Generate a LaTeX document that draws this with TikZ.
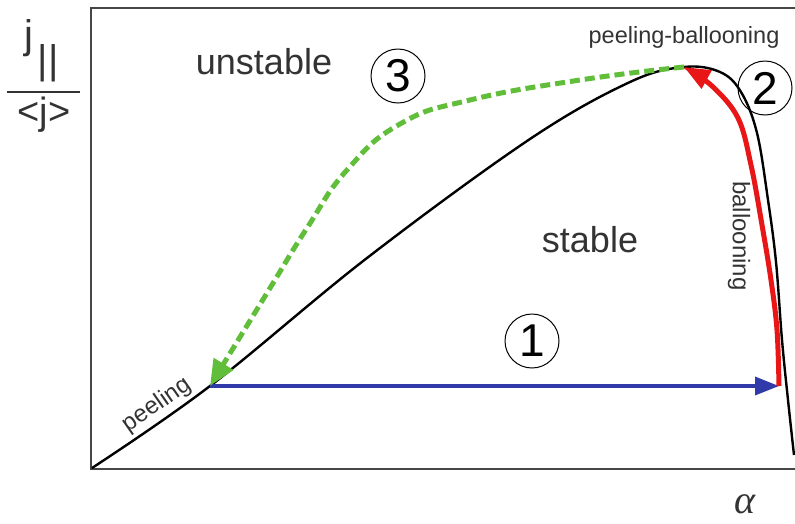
\documentclass[tikz,border=0pt]{standalone}
\usepackage{fontspec}
\setmainfont{Liberation Sans}
\newfontfamily\greekserif{Liberation Serif}
\usetikzlibrary{arrows.meta}
\definecolor{grn}{RGB}{96,190,58}
\definecolor{rd}{RGB}{232,22,22}
\definecolor{bl}{RGB}{48,58,168}
\definecolor{frm}{RGB}{70,70,70}
\tikzset{
  lbl/.style={inner sep=0pt, text=black!80},
  numc/.style={draw=black, line width=1pt, circle, minimum size=54pt, inner sep=0pt, font=\fontsize{46}{46}\selectfont},
  bound/.style={black, line width=2.4pt},
}
\begin{document}
\begin{tikzpicture}[x=1pt,y=-1pt]
\useasboundingbox (0,0) rectangle (795,523);
% frame
\draw[frm, line width=2pt] (795,8) -- (91,8) -- (91,469) -- (795,469);
% key points
\coordinate (O) at (92,468);
\coordinate (P) at (210,386);
\coordinate (T) at (684,67);
\coordinate (E) at (779,386);
\coordinate (Z) at (794,455);
% stability boundary
\draw[bound] plot[smooth, tension=0.6] coordinates {(O) (P) (367,258) (530,139) (630,82) (T) (720,72) (741,92) (757,133) (768,200) (776,262) (782,340) (788,400) (Z)};
% path 1
\draw[bl, line width=3.5pt, -{Triangle[length=24pt,width=18pt]}] (P) -- (E);
% path 2
\draw[rd, line width=5pt, -{Triangle[length=26pt,width=20pt]}] plot[smooth, tension=0.6] coordinates {(E) (777,330) (771,280) (762,225) (751,165) (738,118) (712,86) (T)};
% path 3
\draw[grn, line width=5pt, dash pattern=on 10pt off 5pt, -{Triangle[length=26pt,width=22pt]}] plot[smooth, tension=0.8] coordinates {(T) (580,80) (470,100) (400,124) (347,170) (307,228) (267,293) (P)};
% labels
\node[lbl, font=\fontsize{36}{36}\selectfont] (unst) at (264,62) {unstable};
\node[lbl, font=\fontsize{36}{36}\selectfont] (stab) at (590,240) {stable};
\node[lbl, font=\fontsize{23.5}{24}\selectfont] (pb) at (684,37) {peeling-ballooning};
\node[lbl, font=\fontsize{24}{24}\selectfont, rotate=-90] (ball) at (739,236) {ballooning};
\node[lbl, font=\fontsize{24}{24}\selectfont, rotate=35] (peel) at (157,405) {peeling};
\node[numc] (c3) at (398,76) {3};
\node[numc] (c2) at (765,88) {2};
\node[numc] (c1) at (532,341) {1};
% axis labels
\node[lbl, font=\fontsize{40}{40}\selectfont] (jj) at (29,38) {j};
\node[lbl, font=\fontsize{40}{40}\selectfont] (par) at (48,63) {||};
\draw[black!80, line width=1.5pt] (7,92) -- (80,92);
\node[lbl, font=\fontsize{38}{38}\selectfont] (jm) at (44,115) {<j>};
\node[lbl, font=\greekserif\itshape\fontsize{40}{40}\selectfont] (al) at (745,504) {α};
\end{tikzpicture}
\end{document}
